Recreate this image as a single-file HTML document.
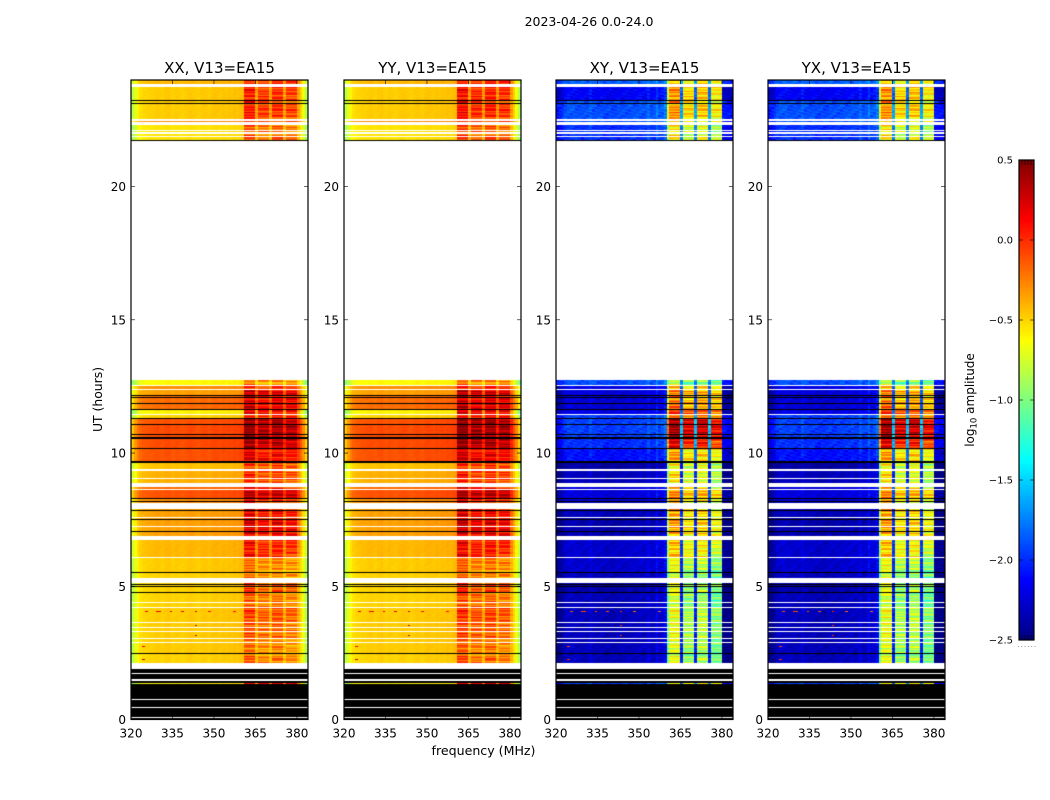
<!DOCTYPE html>
<html lang="en">
<head>
<meta charset="utf-8">
<title>2023-04-26 0.0-24.0</title>
<style>
html,body{margin:0;padding:0;background:#fff;}
#figure{position:relative;width:1050px;height:800px;overflow:hidden;background:#fff;font-family:"DejaVu Sans","Liberation Sans",sans-serif;}
canvas{position:absolute;display:block;}
svg{position:absolute;left:0;top:0;}
text{fill:#000;font-family:"DejaVu Sans","Liberation Sans",sans-serif;}
</style>
</head>
<body>
<div id="figure">
<svg id="overlay" width="1050" height="800" viewBox="0 0 1050 800"></svg>
</div>
<script>
// ---------- chart data ----------
const panelTitles = ['XX, V13=EA15', 'YY, V13=EA15', 'XY, V13=EA15', 'YX, V13=EA15'];
const panelIsCross = [false, false, true, true];
const panelLowShift = [0, 0, 0, 0];
const panelHighShift = [0, 0.05, 0, 0];
const xTickValues = [320, 335, 350, 365, 380];
const yTickValues = [0, 5, 10, 15, 20];
const colorbarTicks = [-2.5, -2.0, -1.5, -1.0, -0.5, 0.0, 0.5];
const colorbarMinor = [-2.5, 0.5];
const freqStart = 320;
const freqEnd = 384;
const hourStart = 0;
const hourEnd = 24;
const colorMin = -2.5;
const colorMax = 0.5;
const rowStep = 0.05;

// log10 amplitude offset per 1 MHz channel
const parallelOffset = [-.35,-.22,-.12,-.06,-.03,-.02,-.01,-.01,0,.01,0,-.01,.01,.02,0,-.01,.01,0,-.01,0,.01,.02,.01,0,-.01,.01,.02,.01,0,.02,.03,.02,.01,.03,.02,.03,.02,.04,.03,.05,.06,.1,.1,.1,.1,-.05,0,0,0,0,-.05,.03,.03,.03,.03,-.05,-.03,-.03,-.03,-.03,-.02,-.1,-.22,-.38];
const parallelWeight = [0,0,0,0,0,0,0,0,0,0,0,0,0,0,0,0,0,0,0,0,0,0,0,0,0,0,0,0,0,0,0,0,0,0,0,0,0,0,0,0,0,1,1,1,1,.45,1,1,1,1,.45,1,1,1,1,.45,1,1,1,1,.35,.2,.1,0];
const crossOffset = [-.12,-.08,-.02,.05,.08,.08,.08,.06,.06,.05,.05,.04,.12,.06,.05,.04,.05,.03,.02,.04,.02,.03,.05,.03,.04,.05,.06,.06,.06,.06,.08,.06,.06,.15,.06,.08,.2,.08,.12,.22,.15,.05,.05,.05,.05,0,-.15,-.15,-.15,-.15,0,-.1,-.1,-.1,-.1,0,-.25,-.25,-.25,-.25,-.1,-.12,-.14,-.16];
const crossWeight = [0,0,0,0,0,0,0,0,0,0,0,0,0,0,0,0,0,0,0,0,0,0,0,0,0,0,0,0,0,0,0,0,0,0,0,0,0,0,0,0,.7,1,1,1,1,.2,1,1,1,1,.2,1,1,1,1,.2,1,1,1,1,0,0,0,0];
const rowRipple = [.1,-.05,-.2,.05,.15,-.1,0,-.18,.12,.04,-.12,.08,-.06,.16,-.14,.02,-.08];
const speckle = [.1,-.06,.14,-.12,.03,.08,-.15,.05,-.03,.12,-.09,.02,-.05];

// scan bands: hour from, hour to
const bandFrom = [1.33,2.12,2.45,3.00,3.65,4.20,4.75,5.31,5.50,6.10,6.89,7.50,8.11,8.30,8.62,8.88,9.33,9.71,10.20,10.52,11.06,11.30,11.47,11.66,12.15,12.36,12.50,21.73,22.31,22.40,22.54,23.26,23.75];
const bandTo   = [1.37,2.45,3.00,3.65,4.20,4.75,5.31,5.50,6.10,6.89,7.50,7.89,8.30,8.62,8.71,9.33,9.71,10.20,10.52,11.06,11.30,11.43,11.66,12.15,12.36,12.50,12.75,22.31,22.40,22.54,23.26,23.75,24.00];
// parallel-hand levels outside / inside the high-frequency block
const bandLowParallel  = [-.6,-.5,-.48,-.48,-.48,-.5,-.5,-.5,-.48,-.42,-.35,-.35,-.3,-.12,-.2,-.4,-.45,-.12,-.1,-.1,-.12,-.5,-.6,-.2,-.35,-.3,-.62,-.55,-.55,-.3,-.48,-.48,-.42];
const bandHighParallel = [.1,-.25,-.3,-.2,-.15,-.25,-.15,-.3,-.3,0,.15,.1,0,.25,0,-.1,-.1,.1,.3,.35,.35,0,.1,.15,.2,-.1,-.3,-.2,-.2,-.15,-.05,-.05,0];
// cross-hand levels outside / inside the high-frequency block
const bandLowCross  = [-2,-2.38,-2.38,-2.38,-2.38,-2.38,-2.42,-2.38,-2.33,-2.33,-2.42,-2.38,-2.33,-2.28,-2.28,-2.38,-2.45,-2.15,-2.05,-2,-2,-2,-2.25,-2.3,-2.28,-2.25,-1.95,-2.05,-2.05,-1.95,-1.95,-2.2,-1.9];
const bandHighCross = [-.5,-.75,-.75,-.7,-.7,-.8,-.75,-.8,-.7,-.5,-.4,-.4,-.45,-.3,-.45,-.6,-.6,-.4,.15,.35,.35,-.15,0,-.25,-.25,-.45,-.8,-.6,-.6,-.5,-.35,-.35,-.4];

// isolated hot channels: hour, first channel, last channel, level
const hotHour  = [21.72,4.03,4.03,4.03,4.03,4.03,4.03,4.03,3.54,3.43,3.13,2.74,2.24];
const hotFirst = [1,5,9,14,18,23,28,37,23,23,23,4,4];
const hotLast  = [20,5,10,14,18,23,28,37,23,23,23,4,4];
const hotLevel = [.35,.2,.2,.2,.2,.3,.1,.1,.3,.3,.3,.2,.3];

// flagged (black) and masked (white) time ranges
const flagFrom = [23.22,23.12,22.52,21.70,12.15,12.06,11.85,11.62,11.29,11.06,10.67,10.57,10.52,10.16,9.62,8.27,8.17,7.83,7.49,7.04,5.49,5.04,4.97,4.75,2.45,1.52,1.37,0];
const flagTo   = [23.26,23.15,22.54,21.73,12.19,12.09,11.89,11.66,11.32,11.10,10.71,10.61,10.55,10.20,9.71,8.31,8.21,7.87,7.53,7.08,5.53,5.08,5.00,4.79,2.49,1.90,1.45,1.33];
const maskFrom = [23.74,22.46,22.31,22.08,21.98,21.85,12.75,12.50,12.36,11.43,9.33,9.03,8.71,8.62,7.89,7.55,7.21,6.74,6.07,5.13,4.36,4.19,3.61,3.43,3.29,3.01,2.88,1.90,1.70,1.45,.72,.42,.05];
const maskTo   = [23.84,22.52,22.41,22.13,22.03,21.90,21.71,12.54,12.42,11.47,9.40,9.07,8.88,8.66,8.11,7.59,7.25,6.89,6.10,5.31,4.40,4.23,3.65,3.47,3.32,3.05,2.92,2.12,1.74,1.52,.76,.46,.08];

// ---------- layout ----------
const panelLeft = [131, 344, 556, 768];
const panelWidth = 177;
const panelTop = 80;
const panelHeight = 639.5;
const cbLeft = 1019, cbTop = 160, cbWidth = 15, cbHeight = 480;

const svgNS = 'http://www.w3.org/2000/svg';
const overlay = document.getElementById('overlay');
const figure = document.getElementById('figure');

function xScale(f){ return (f - freqStart) / (freqEnd - freqStart) * panelWidth; }
function yScale(h){ return (hourEnd - h) / (hourEnd - hourStart) * panelHeight; }
function cbScale(v){ return (colorMax - v) / (colorMax - colorMin) * cbHeight; }
function clamp01(v){ return Math.max(0, Math.min(1, v)); }
function jet(v){
  const t = clamp01((v - colorMin) / (colorMax - colorMin));
  const r = clamp01(1.5 - Math.abs(4 * t - 3));
  const g = clamp01(1.5 - Math.abs(4 * t - 2));
  const b = clamp01(1.5 - Math.abs(4 * t - 1));
  return 'rgb(' + Math.round(r * 255) + ',' + Math.round(g * 255) + ',' + Math.round(b * 255) + ')';
}
function svgEl(tag, attrs, text){
  const el = document.createElementNS(svgNS, tag);
  for (const k in attrs) el.setAttribute(k, attrs[k]);
  if (text !== undefined) el.textContent = text;
  overlay.appendChild(el);
  return el;
}
function cellLevel(p, b, ch, row){
  const cross = panelIsCross[p];
  const w = cross ? crossWeight[ch] : parallelWeight[ch];
  const off = cross ? crossOffset[ch] : parallelOffset[ch];
  const low = (cross ? bandLowCross[b] : bandLowParallel[b]) + panelLowShift[p];
  const high = (cross ? bandHighCross[b] : bandHighParallel[b]) + panelHighShift[p];
  const block = Math.floor((ch - 41) / 5);
  const ripple = rowRipple[(row + (block > 0 ? block * 5 : 0) + 170) % rowRipple.length] * (cross ? 1.2 : 1.0);
  const grain = speckle[(row * 3 + ch * 7) % speckle.length] * (cross ? 0.6 : 0.1);
  return low * (1 - w) + high * w + off + ripple * w + grain * (1 - w * 0.7);
}
function drawPanel(ctx, p){
  for (let b = 0; b < bandFrom.length; b++){
    let h = bandFrom[b];
    while (h < bandTo[b] - 1e-6){
      const row = Math.floor(h / rowStep + 1e-6);
      const next = Math.min(bandTo[b], (row + 1) * rowStep);
      const y0 = Math.round(yScale(next));
      const y1 = Math.max(y0 + 1, Math.round(yScale(h)));
      for (let ch = 0; ch < parallelWeight.length; ch++){
        const x0 = Math.round(xScale(freqStart + ch));
        const x1 = Math.round(xScale(freqStart + ch + 1));
        ctx.fillStyle = jet(cellLevel(p, b, ch, row));
        ctx.fillRect(x0, y0, x1 - x0, y1 - y0);
      }
      h = next;
    }
  }
  for (let i = 0; i < hotHour.length; i++){
    const y0 = Math.round(yScale(hotHour[i] + rowStep / 2));
    const x0 = Math.round(xScale(freqStart + hotFirst[i]));
    const x1 = Math.round(xScale(freqStart + hotLast[i] + 1));
    const lvl = panelIsCross[p] ? hotLevel[i] - 0.3 : hotLevel[i];
    ctx.fillStyle = jet(lvl);
    ctx.fillRect(x0, y0, x1 - x0, 1);
  }
  ctx.fillStyle = '#000';
  for (let i = 0; i < flagFrom.length; i++){
    const y0 = Math.round(yScale(flagTo[i]));
    const y1 = Math.max(y0 + 1, Math.round(yScale(flagFrom[i])));
    ctx.fillRect(0, y0, panelWidth, y1 - y0);
  }
  ctx.fillStyle = '#fff';
  for (let i = 0; i < maskFrom.length; i++){
    const y0 = Math.round(yScale(maskTo[i]));
    const y1 = Math.max(y0 + 1, Math.round(yScale(maskFrom[i])));
    ctx.fillRect(0, y0, panelWidth, y1 - y0);
  }
}

// ---------- panels ----------
panelTitles.forEach(function(title, p){
  const left = panelLeft[p];
  const canvas = document.createElement('canvas');
  
  
  canvas.width = panelWidth;
  canvas.height = Math.ceil(panelHeight);
  canvas.style.left = left + 'px';
  canvas.style.top = panelTop + 'px';
  figure.insertBefore(canvas, overlay);
  drawPanel(canvas.getContext('2d'), p);

  const frame = svgEl('rect', {x: left, y: panelTop, width: panelWidth, height: panelHeight, fill: 'none', stroke: '#000', 'stroke-width': 1.2});
  
  

  const ttl = svgEl('text', {x: left + panelWidth / 2, y: 73, 'text-anchor': 'middle', 'font-size': 15}, title);
  
  

  xTickValues.forEach(function(f){
    const x = left + xScale(f);
    const bottom = panelTop + panelHeight;
    const t1 = svgEl('line', {x1: x, x2: x, y1: bottom, y2: bottom - 4, stroke: '#000', 'stroke-width': .6});
    
    
    const t2 = svgEl('line', {x1: x, x2: x, y1: panelTop, y2: panelTop + 4, stroke: '#000', 'stroke-width': .6});
    
    
    const lab = svgEl('text', {x: x, y: bottom + 18, 'text-anchor': 'middle', 'font-size': 12}, String(f));
    
    
  });
  yTickValues.forEach(function(h){
    const y = panelTop + yScale(h);
    const t1 = svgEl('line', {x1: left, x2: left + 4, y1: y, y2: y, stroke: '#000', 'stroke-width': .6});
    
    
    const t2 = svgEl('line', {x1: left + panelWidth, x2: left + panelWidth - 4, y1: y, y2: y, stroke: '#000', 'stroke-width': .6});
    
    
    const lab = svgEl('text', {x: left - 5, y: y + 4.5, 'text-anchor': 'end', 'font-size': 12}, String(h));
    
    
  });
});

// ---------- figure labels ----------
const suptitle = svgEl('text', {x: 589, y: 26, 'text-anchor': 'middle', 'font-size': 12.5}, '2023-04-26 0.0-24.0');


const xTitle = svgEl('text', {x: 483.5, y: 755, 'text-anchor': 'middle', 'font-size': 12.6}, 'frequency (MHz)');


const yTitle = svgEl('text', {x: 0, y: 0, 'text-anchor': 'middle', 'font-size': 12.4, transform: 'translate(102 399.5) rotate(-90)'}, 'UT (hours)');



// ---------- colorbar ----------
const cbCanvas = document.createElement('canvas');


cbCanvas.width = cbWidth;
cbCanvas.height = cbHeight;
cbCanvas.style.left = cbLeft + 'px';
cbCanvas.style.top = cbTop + 'px';
figure.insertBefore(cbCanvas, overlay);
const cbCtx = cbCanvas.getContext('2d');
for (let i = 0; i < cbHeight; i++){
  cbCtx.fillStyle = jet(colorMax - (i + 0.5) / cbHeight * (colorMax - colorMin));
  cbCtx.fillRect(0, i, cbWidth, 1);
}
const cbFrame = svgEl('rect', {x: cbLeft, y: cbTop, width: cbWidth, height: cbHeight, fill: 'none', stroke: '#000', 'stroke-width': 1.2});


colorbarTicks.forEach(function(v){
  const y = cbTop + cbScale(v);
  const t1 = svgEl('line', {x1: cbLeft, x2: cbLeft + 4, y1: y, y2: y, stroke: '#000', 'stroke-width': .6});
  
  
  const t2 = svgEl('line', {x1: cbLeft + cbWidth, x2: cbLeft + cbWidth - 4, y1: y, y2: y, stroke: '#000', 'stroke-width': .6});
  
  
  const txt = v.toFixed(1).replace('-', '\u2212');
  const lab = svgEl('text', {x: cbLeft - 6, y: y + 3.5, 'text-anchor': 'end', 'font-size': 10}, txt);
  
  
});
colorbarMinor.forEach(function(v){
  const y = cbTop + cbScale(v);
  const dir = v > colorMin ? 1 : -1;
  for (let k = 1; k <= 4; k++){
    const x = cbLeft + k * 3;
    const m = svgEl('line', {x1: x, x2: x, y1: y, y2: y + dir * 5, stroke: '#000', 'stroke-width': .6});
    
    
  }
});
for (let k = 0; k < 6; k++){
  const d = svgEl('rect', {x: 1018 + k * 3.3, y: 646, width: 1, height: 1, fill: '#999'});
  
  
}
const cbLabel = svgEl('text', {x: 0, y: 0, 'text-anchor': 'middle', 'font-size': 12, transform: 'translate(974 400) rotate(-90)'});


const ts1 = document.createElementNS(svgNS, 'tspan');
ts1.textContent = 'log';
cbLabel.appendChild(ts1);
const ts2 = document.createElementNS(svgNS, 'tspan');
ts2.setAttribute('font-size', '8.5');
ts2.setAttribute('dy', '2.5');
ts2.textContent = '10';
cbLabel.appendChild(ts2);
const ts3 = document.createElementNS(svgNS, 'tspan');
ts3.setAttribute('dy', '-2.5');
ts3.textContent = ' amplitude';
cbLabel.appendChild(ts3);
</script>
</body>
</html>
